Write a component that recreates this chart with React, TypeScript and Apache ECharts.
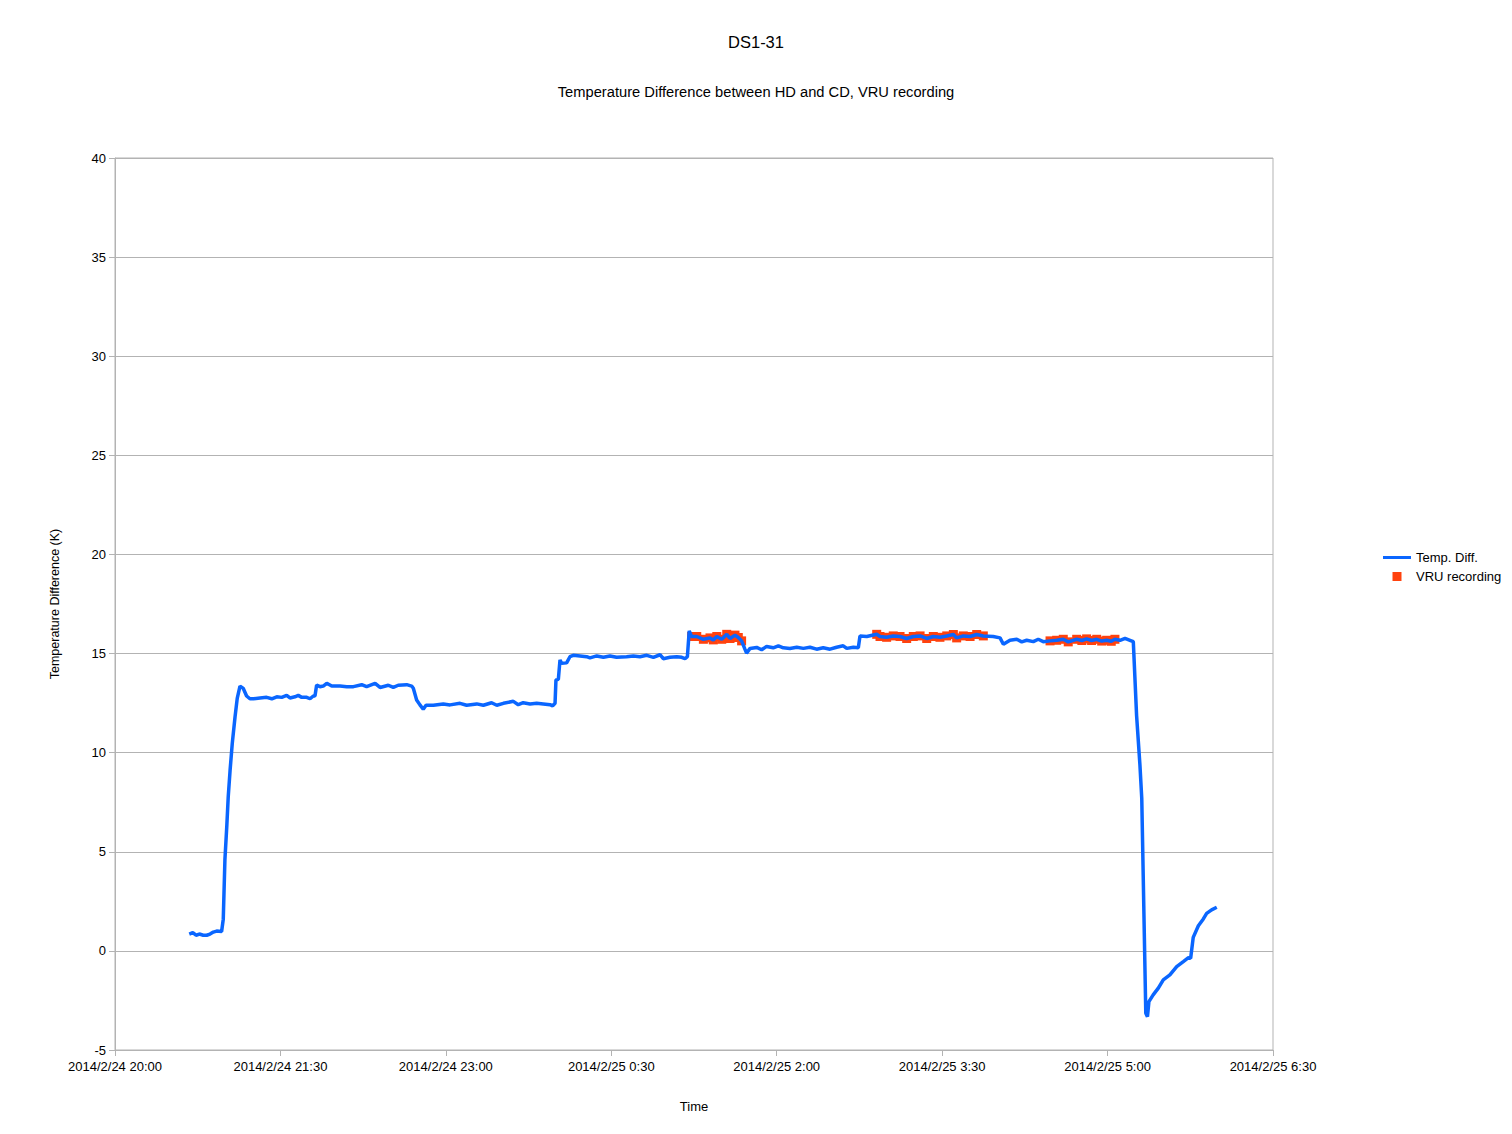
import React, { useEffect, useRef } from "react";
import * as echarts from "echarts";

// minutes after 2014/2/24 20:00
const minutes: number[] = [
  40.4, 42.3, 44.1, 45.9, 48.0, 49.9, 51.7, 53.5, 55.3, 58.0, 58.9, 59.8, 60.8, 61.6, 62.6, 63.8, 65.3, 66.5, 68.0, 69.8,
  71.6, 73.4, 75.3, 78.9, 82.5, 85.3, 88.0, 90.7, 93.4, 95.2, 97.9, 99.7, 101.6, 104.3, 106.1, 107.9, 108.8, 109.7, 111.5, 113.3,
  115.2, 117.9, 122.4, 126.1, 129.7, 134.2, 136.9, 141.5, 144.2, 148.7, 151.4, 154.1, 158.7, 161.4, 162.3, 164.1, 165.9, 167.7, 169.2, 173.2,
  178.6, 182.3, 187.7, 191.3, 196.8, 200.4, 204.9, 207.7, 211.3, 216.7, 219.4, 222.1, 225.8, 229.4, 233.0, 236.7, 238.1, 239.4, 239.9, 241.2,
  242.1, 243.0, 245.7, 247.5, 249.3, 253.0, 256.6, 258.4, 262.1, 265.7, 269.3, 272.9, 278.3, 282.0, 285.6, 289.3, 292.9, 296.5, 298.3, 301.9,
  305.6, 308.3, 310.1, 311.4, 312.4, 313.7, 316.5, 320.1, 323.7, 325.5, 327.4, 330.1, 332.8, 334.6, 337.3, 339.1, 340.9, 342.7, 343.6, 345.5,
  349.1, 351.8, 354.5, 358.1, 360.9, 363.6, 367.2, 370.9, 374.5, 378.1, 381.7, 385.3, 389.0, 392.6, 396.2, 398.1, 401.7, 404.4, 405.3, 409.0,
  414.4, 416.2, 419.8, 423.4, 427.1, 430.7, 434.3, 438.0, 441.6, 445.2, 448.8, 452.5, 456.1, 457.9, 461.5, 465.2, 468.8, 472.4, 477.8, 481.5,
  483.3, 486.9, 490.6, 493.3, 496.0, 499.6, 502.3, 505.0, 508.7, 512.3, 515.9, 518.6, 523.2, 526.0, 528.6, 531.3, 534.1, 536.8, 539.5, 542.0,
  544.0, 546.8, 549.5, 552.2, 554.0, 555.8, 557.6, 558.6, 560.8, 561.7, 562.5, 564.8, 567.6, 570.3, 573.9, 577.6, 581.2, 584.0, 585.2, 586.6,
  589.4, 592.1, 593.9, 596.6, 599.4,
];

const tempDiff: number[] = [
  0.85, 0.92, 0.79, 0.85, 0.79, 0.79, 0.85, 0.95, 1.0, 0.98, 1.6, 4.6, 6.26, 7.77, 9.1, 10.47, 11.8, 12.74, 13.36, 13.24,
  12.86, 12.72, 12.72, 12.76, 12.79, 12.72, 12.82, 12.79, 12.89, 12.76, 12.82, 12.89, 12.79, 12.79, 12.72, 12.86, 12.86, 13.41, 13.33, 13.36,
  13.5, 13.36, 13.36, 13.33, 13.33, 13.43, 13.33, 13.5, 13.29, 13.4, 13.29, 13.4, 13.43, 13.36, 13.25, 12.66, 12.41, 12.19, 12.39, 12.39,
  12.46, 12.41, 12.49, 12.39, 12.46, 12.39, 12.52, 12.39, 12.49, 12.59, 12.42, 12.52, 12.46, 12.49, 12.46, 12.42, 12.36, 12.49, 13.67, 13.7,
  14.68, 14.51, 14.53, 14.84, 14.91, 14.88, 14.84, 14.78, 14.88, 14.81, 14.88, 14.81, 14.84, 14.88, 14.84, 14.91, 14.81, 14.94, 14.74, 14.81,
  14.84, 14.81, 14.74, 14.84, 16.14, 15.86, 15.86, 15.72, 15.79, 15.69, 15.86, 15.72, 15.97, 15.76, 15.93, 15.81, 15.64, 15.22, 15.02, 15.26,
  15.31, 15.19, 15.36, 15.29, 15.39, 15.29, 15.26, 15.32, 15.26, 15.32, 15.22, 15.29, 15.22, 15.32, 15.39, 15.26, 15.32, 15.29, 15.89, 15.86,
  15.97, 15.86, 15.82, 15.89, 15.86, 15.76, 15.86, 15.89, 15.76, 15.86, 15.82, 15.89, 15.96, 15.79, 15.89, 15.86, 15.96, 15.89, 15.86, 15.79,
  15.47, 15.67, 15.72, 15.59, 15.67, 15.6, 15.72, 15.6, 15.64, 15.67, 15.72, 15.59, 15.72, 15.66, 15.74, 15.66, 15.72, 15.63, 15.67, 15.62,
  15.72, 15.67, 15.77, 15.67, 15.6, 11.86, 9.38, 7.7, -3.15, -3.32, -2.56, -2.22, -1.88, -1.46, -1.21, -0.79, -0.54, -0.34, -0.37, 0.68,
  1.27, 1.61, 1.89, 2.07, 2.2,
];

// VRU recording samples (minutes after 20:00, value)
const vruMinutes: number[] = [
  313.7, 316.5, 320.1, 323.7, 325.5, 327.4, 330.1, 332.8, 334.6, 337.3, 339.1, 340.9,
  414.4, 416.2, 419.8, 423.4, 427.1, 430.7, 434.3, 438.0, 441.6, 445.2, 448.8, 452.5, 456.1, 457.9, 461.5, 465.2, 468.8, 472.4,
  508.7, 512.3, 515.9, 518.6, 523.2, 526.0, 528.6, 531.3, 534.1, 536.8, 539.5, 542.0, 544.0,
];
const vruValues: number[] = [
  15.86, 15.86, 15.72, 15.79, 15.69, 15.86, 15.72, 15.97, 15.76, 15.93, 15.81, 15.64,
  15.97, 15.86, 15.82, 15.89, 15.86, 15.76, 15.86, 15.89, 15.76, 15.86, 15.82, 15.89, 15.96, 15.79, 15.89, 15.86, 15.96, 15.89,
  15.64, 15.67, 15.72, 15.59, 15.72, 15.66, 15.74, 15.66, 15.72, 15.63, 15.67, 15.62, 15.72,
];

const xTickLabels: string[] = [
  "2014/2/24 20:00",
  "2014/2/24 21:30",
  "2014/2/24 23:00",
  "2014/2/25 0:30",
  "2014/2/25 2:00",
  "2014/2/25 3:30",
  "2014/2/25 5:00",
  "2014/2/25 6:30",
];

const FONT = "'Liberation Sans', Arial, sans-serif";
const GRAY = "#b3b3b3";
const BLUE = "#0a66ff";
const RED = "#ff420e";

export default function App() {
  const ref = useRef<HTMLDivElement>(null);

  useEffect(() => {
    if (!ref.current) return;
    const chart = echarts.init(ref.current, undefined, { renderer: "svg" });
    const lineData = minutes.map((m, i) => [m, tempDiff[i]]);
    const vruData = vruMinutes.map((m, i) => [m, vruValues[i]]);
    chart.setOption({
      animation: false,
      textStyle: { fontFamily: FONT, color: "#000" },
      title: [
        {
          text: "DS1-31",
          left: "center",
          top: 28,
          textStyle: { fontFamily: FONT, fontSize: 16.5, fontWeight: "normal", color: "#000" },
        },
        {
          text: "Temperature Difference between HD and CD, VRU recording",
          left: "center",
          top: 79,
          textStyle: { fontFamily: FONT, fontSize: 14.7, fontWeight: "normal", color: "#000" },
        },
      ],
      grid: {
        left: 115,
        top: 158,
        right: 239,
        bottom: 84,
        show: true,
        borderColor: GRAY,
        borderWidth: 1,
        containLabel: false,
      },
      legend: {
        orient: "vertical",
        left: 1383,
        top: 551,
        padding: 0,
        itemWidth: 28,
        itemHeight: 9,
        itemGap: 6,
        textStyle: { fontFamily: FONT, fontSize: 13, color: "#000" },
        data: [
          { name: "Temp. Diff.", icon: "path://M0,0H28V3H0Z" },
          { name: "VRU recording", icon: "path://M0,0H10V10H0Z" },
        ],
      },
      xAxis: {
        type: "value",
        min: 0,
        max: 630,
        interval: 90,
        name: "Time",
        nameLocation: "middle",
        nameGap: 50,
        nameTextStyle: { fontFamily: FONT, fontSize: 13, color: "#000" },
        axisLine: { show: true, onZero: false, lineStyle: { color: GRAY } },
        axisTick: { show: true, length: 6, lineStyle: { color: GRAY } },
        splitLine: { show: false },
        axisLabel: {
          margin: 10,
          fontFamily: FONT,
          fontSize: 13,
          color: "#000",
          formatter: (v: number) => xTickLabels[Math.round(v / 90)] ?? "",
        },
      },
      yAxis: {
        type: "value",
        min: -5,
        max: 40,
        interval: 5,
        name: "Temperature Difference (K)",
        nameLocation: "middle",
        nameGap: 54,
        nameRotate: 90,
        nameTextStyle: { fontFamily: FONT, fontSize: 12.5, color: "#000" },
        axisLine: { show: true, lineStyle: { color: GRAY } },
        axisTick: { show: true, length: 6, lineStyle: { color: GRAY } },
        splitLine: { show: true, lineStyle: { color: GRAY, width: 1 } },
        axisLabel: { margin: 9, fontFamily: FONT, fontSize: 13, color: "#000" },
      },
      series: [
        {
          name: "VRU recording",
          type: "scatter",
          data: vruData,
          symbol: "rect",
          symbolSize: 9,
          itemStyle: { color: RED, opacity: 1 },
          z: 2,
        },
        {
          name: "Temp. Diff.",
          type: "line",
          data: lineData,
          symbol: "none",
          showSymbol: false,
          lineStyle: { color: BLUE, width: 3.5 },
          itemStyle: { color: BLUE },
          z: 3,
        },
      ],
    });
    return () => chart.dispose();
  }, []);

  return (
    <div
      ref={ref}
      style={{ position: "fixed", left: 0, top: 0, width: 1512, height: 1134, background: "#fff" }}
    />
  );
}
